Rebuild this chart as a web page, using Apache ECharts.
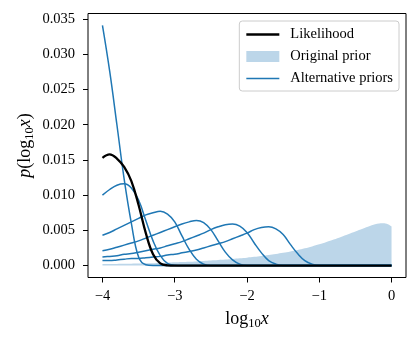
<!DOCTYPE html>
<html>
<head>
<meta charset="utf-8">
<script src="https://cdn.jsdelivr.net/npm/echarts@6/dist/echarts.min.js"></script>
<style>
  html, body { margin: 0; padding: 0; background: #fff; }
  #chart { width: 420px; height: 343px; }
</style>
</head>
<body>
<div id="chart"></div>
<script>
// grid of log10 x values shared by every curve
const xs = [
  -4.0, -3.9, -3.8, -3.7, -3.6, -3.5, -3.4, -3.3, -3.2, -3.1,
  -3.0, -2.9, -2.8, -2.7, -2.6, -2.5, -2.4, -2.3, -2.2, -2.1,
  -2.0, -1.9, -1.8, -1.7, -1.6, -1.5, -1.4, -1.3, -1.2, -1.1,
  -1.0, -0.9, -0.8, -0.7, -0.6, -0.5, -0.4, -0.3, -0.2, -0.1,
  0.0
]

const likelihood = [
  0.0153, 0.0158, 0.0152, 0.0140, 0.0120, 0.0086, 0.0046, 0.0016, 0.0003, 0.00003,
  0, 0, 0, 0, 0, 0, 0, 0, 0, 0,
  0, 0, 0, 0, 0, 0, 0, 0, 0, 0,
  0, 0, 0, 0, 0, 0, 0, 0, 0, 0,
  0
]

const originalPrior = [
  0.00020, 0.00021, 0.00022, 0.00024, 0.00026, 0.00028, 0.00031, 0.00034, 0.00037, 0.00041,
  0.00045, 0.00049, 0.00054, 0.00059, 0.00065, 0.00071, 0.00078, 0.00085, 0.00093, 0.00102,
  0.00112, 0.00123, 0.00135, 0.00149, 0.00164, 0.00181, 0.00200, 0.00221, 0.00245, 0.00272,
  0.00302, 0.00335, 0.00370, 0.00407, 0.00445, 0.00484, 0.00522, 0.00560, 0.00592, 0.00600,
  0.00555
]

const altPrior1 = [
  0.0341, 0.0276, 0.0200, 0.0123, 0.0060, 0.0012, 0.0001, 0, 0, 0,
  0, 0, 0, 0, 0, 0, 0, 0, 0, 0,
  0, 0, 0, 0, 0, 0, 0, 0, 0, 0,
  0, 0, 0, 0, 0, 0, 0, 0, 0, 0,
  0
]
const altPrior2 = [
  0.0100, 0.0108, 0.0114, 0.0116, 0.0110, 0.0093, 0.0064, 0.0035, 0.0014, 0.0003,
  0.00005, 0, 0, 0, 0, 0, 0, 0, 0, 0,
  0, 0, 0, 0, 0, 0, 0, 0, 0, 0,
  0, 0, 0, 0, 0, 0, 0, 0, 0, 0,
  0
]
const altPrior3 = [
  0.0043, 0.0047, 0.0052, 0.0057, 0.0062, 0.0067, 0.0072, 0.0075, 0.0077, 0.0073,
  0.0062, 0.0042, 0.0023, 0.0009, 0.0002, 0, 0, 0, 0, 0,
  0, 0, 0, 0, 0, 0, 0, 0, 0, 0,
  0, 0, 0, 0, 0, 0, 0, 0, 0, 0,
  0
]
const altPrior4 = [
  0.0021, 0.0023, 0.0026, 0.0029, 0.0032, 0.0035, 0.0039, 0.0043, 0.0047, 0.0051,
  0.0055, 0.0059, 0.0062, 0.0064, 0.0061, 0.0051, 0.0035, 0.0019, 0.0008, 0.0002,
  0, 0, 0, 0, 0, 0, 0, 0, 0, 0,
  0, 0, 0, 0, 0, 0, 0, 0, 0, 0,
  0
]
const altPrior5 = [
  0.0012, 0.0013, 0.0014, 0.0016, 0.0017, 0.0019, 0.0021, 0.0023, 0.0025, 0.0028,
  0.0031, 0.0034, 0.0038, 0.0042, 0.0046, 0.0051, 0.0055, 0.0058, 0.0059, 0.0056,
  0.0047, 0.0032, 0.0018, 0.0007, 0.0002, 0, 0, 0, 0, 0,
  0, 0, 0, 0, 0, 0, 0, 0, 0, 0,
  0
]
const altPrior6 = [
  0.0007, 0.0007, 0.0008, 0.0009, 0.0010, 0.0010, 0.0011, 0.0012, 0.0013, 0.0015,
  0.0016, 0.0018, 0.0020, 0.0022, 0.0025, 0.0028, 0.0031, 0.0034, 0.0038, 0.0042,
  0.0046, 0.0051, 0.0054, 0.0055, 0.0052, 0.0044, 0.0030, 0.0017, 0.0007, 0.0002,
  0, 0, 0, 0, 0, 0, 0, 0, 0, 0,
  0
]
const altPriors = [altPrior1, altPrior2, altPrior3, altPrior4, altPrior5, altPrior6]

// tick labels
const xTicks = [-4, -3, -2, -1, 0]
const yTicks = [0, 0.005, 0.010, 0.015, 0.020, 0.025, 0.030, 0.035]

const SERIF = 'Liberation Serif'
const BLUE = '#1f77b4'
const FILL = '#bcd6e9'

const pairs = arr => xs.map((x, i) => [x, arr[i]])

// rich text for the math style axis names
const nameRich = {
  r: { fontFamily: SERIF, fontSize: 18, lineHeight: 22, color: '#000' },
  i: { fontFamily: SERIF, fontSize: 18, lineHeight: 22, fontStyle: 'italic', color: '#000' },
  s: { fontFamily: SERIF, fontSize: 12.5, lineHeight: 12, verticalAlign: 'bottom', color: '#000' }
}

const chart = echarts.init(document.getElementById('chart'))

const series = [
  {
    name: 'Original prior',
    type: 'line',
    data: pairs(originalPrior),
    smooth: 0.4,
    symbol: 'none',
    color: FILL,
    lineStyle: { width: 0 },
    areaStyle: { color: FILL, opacity: 1 },
    z: 1
  }
]
altPriors.forEach(arr => {
  series.push({
    name: 'Alternative priors',
    type: 'line',
    data: pairs(arr),
    smooth: 0.4,
    symbol: 'none',
    color: BLUE,
    lineStyle: { width: 1.5, color: BLUE },
    z: 2
  })
})
series.push({
  name: 'Likelihood',
  type: 'line',
  data: pairs(likelihood),
  smooth: 0.4,
  symbol: 'none',
  color: '#000',
  lineStyle: { width: 2.3, color: '#000' },
  z: 3
})

const option = {
  animation: false,
  backgroundColor: '#fff',
  grid: {
    left: 88,
    top: 13.5,
    right: 14,
    bottom: 65.5,
    show: true,
    borderColor: '#000',
    borderWidth: 1,
    backgroundColor: 'transparent'
  },
  legend: {
    orient: 'vertical',
    right: 21,
    top: 21,
    padding: [6, 6, 5, 7],
    itemWidth: 33,
    itemHeight: 11,
    itemGap: 7,
    backgroundColor: 'rgba(255,255,255,0.8)',
    borderColor: '#cccccc',
    borderWidth: 1,
    borderRadius: 3,
    textStyle: { fontFamily: SERIF, fontSize: 14.5, color: '#000', padding: [0, 0, 0, 6] },
    // plain bars as legend handles, like the matplotlib ones
    data: [
      { name: 'Likelihood', icon: 'path://M0,0H33V2.3H0Z', itemStyle: { color: '#000' } },
      { name: 'Original prior', icon: 'rect', itemStyle: { color: FILL } },
      { name: 'Alternative priors', icon: 'path://M0,0H33V1.5H0Z', itemStyle: { color: BLUE } }
    ]
  },
  xAxis: {
    type: 'value',
    min: -4.2,
    max: 0.2,
    splitLine: { show: false },
    axisLine: { show: false, onZero: false },
    axisTick: { show: true, length: 5, customValues: xTicks, lineStyle: { color: '#000', width: 1 } },
    axisLabel: {
      customValues: xTicks,
      margin: 11,
      fontFamily: SERIF,
      fontSize: 14.5,
      color: '#000',
      formatter: v => (v < 0 ? '\u2212' + Math.abs(v) : String(v))
    },
    name: '{r|log}{s|10}{i|x}',
    nameLocation: 'middle',
    nameGap: 31,
    nameMoveOverlap: false,
    nameTextStyle: { rich: nameRich }
  },
  yAxis: {
    type: 'value',
    min: -0.0017,
    max: 0.0358,
    splitLine: { show: false },
    axisLine: { show: false, onZero: false },
    axisTick: { show: true, length: 5, customValues: yTicks, lineStyle: { color: '#000', width: 1 } },
    axisLabel: {
      customValues: yTicks,
      margin: 13,
      fontFamily: SERIF,
      fontSize: 14.5,
      color: '#000',
      formatter: v => v.toFixed(3)
    },
    name: '{i|p}{r|(log}{s|10}{i|x}{r|)}',
    nameLocation: 'middle',
    nameRotate: 90,
    nameGap: 52,
    nameMoveOverlap: false,
    nameTextStyle: { rich: nameRich }
  },
  series: series
}

chart.setOption(option)
</script>
</body>
</html>
